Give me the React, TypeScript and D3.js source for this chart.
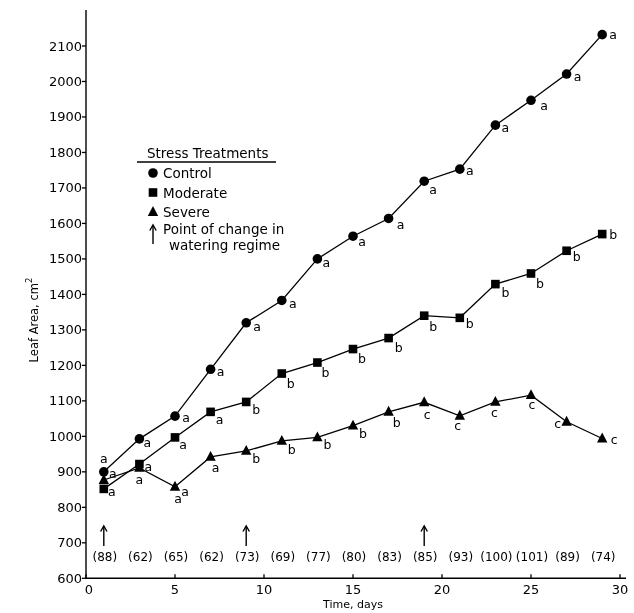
import React from "react";
import * as d3 from "d3";

const days = [1, 3, 5, 7, 9, 11, 13, 15, 17, 19, 21, 23, 25, 27, 29];
const controlValues = [900, 993, 1057, 1189, 1320, 1383, 1500, 1564, 1614, 1719, 1753, 1877, 1947, 2021, 2132];
const moderateValues = [852, 922, 997, 1069, 1097, 1177, 1208, 1246, 1277, 1340, 1334, 1429, 1459, 1523, 1570];
const severeValues = [877, 911, 858, 942, 959, 987, 997, 1030, 1069, 1096, 1058, 1097, 1116, 1041, 994];
const controlLetters = ["a", "a", "a", "a", "a", "a", "a", "a", "a", "a", "a", "a", "a", "a", "a"];
const moderateLetters = ["a", "a", "a", "a", "b", "b", "b", "b", "b", "b", "b", "b", "b", "b", "b"];
const severeLetters = ["a", "a", "a", "a", "b", "b", "b", "b", "b", "c", "c", "c", "c", "c", "c"];
const sampleCounts = ["(88)", "(62)", "(65)", "(62)", "(73)", "(69)", "(77)", "(80)", "(83)", "(85)", "(93)", "(100)", "(101)", "(89)", "(74)"];
const changeDays = [1, 9, 19];
const xTicks = [0, 5, 10, 15, 20, 25, 30];
const yTicks = [600, 700, 800, 900, 1000, 1100, 1200, 1300, 1400, 1500, 1600, 1700, 1800, 1900, 2000, 2100];
const legendItems = ["Control", "Moderate", "Severe"];

// label placement offsets (px) relative to each point
const controlOffsets: [number, number][][] = [
  [[0, -13]], [[8, 4]], [[11, 1]], [[10, 2]], [[11, 4]], [[11, 3]], [[9, 4]], [[9, 5]],
  [[12, 6]], [[9, 8]], [[10, 1]], [[10, 2]], [[13, 5]], [[11, 2]], [[11, 0]],
];
const moderateOffsets: [number, number][][] = [
  [[8, 3]], [[9, 2]], [[8, 7]], [[9, 8]], [[10, 8]], [[9, 10]], [[8, 10]], [[9, 9]],
  [[10, 9]], [[9, 11]], [[10, 6]], [[10, 8]], [[9, 10]], [[10, 6]], [[11, 0]],
];
const severeOffsets: [number, number][][] = [
  [[9, -7]], [[0, 12]], [[3, 12], [10, 5]], [[5, 11]], [[10, 8]], [[10, 9]], [[10, 7]], [[10, 8]],
  [[8, 11]], [[3, 12]], [[-2, 10]], [[-1, 11]], [[1, 9]], [[-9, 2]], [[12, 1]],
];

const FONT = "'DejaVu Sans', 'Liberation Sans', sans-serif";

export default function App() {
  const width = 634;
  const height = 613;
  const x = d3.scaleLinear().domain([0, 30]).range([86, 620]);
  const y = d3.scaleLinear().domain([600, 2100]).range([578.3, 46]);
  const line = d3
    .line<[number, number]>()
    .x((d) => x(d[0]))
    .y((d) => y(d[1]));

  const series = [
    { values: controlValues, letters: controlLetters, offsets: controlOffsets, shape: "circle" },
    { values: moderateValues, letters: moderateLetters, offsets: moderateOffsets, shape: "square" },
    { values: severeValues, letters: severeLetters, offsets: severeOffsets, shape: "triangle" },
  ];

  const marker = (shape: string, cx: number, cy: number, key: string) => {
    if (shape === "circle") return <circle key={key} cx={cx} cy={cy} r={4.8} fill="#000" />;
    if (shape === "square")
      return <rect key={key} x={cx - 4.3} y={cy - 4.3} width={8.6} height={8.6} fill="#000" />;
    const s = 5.2;
    return (
      <path
        key={key}
        d={`M${cx},${cy - s - 0.8} L${cx + s},${cy + s * 0.75} L${cx - s},${cy + s * 0.75} Z`}
        fill="#000"
      />
    );
  };

  const arrow = (ax: number, y1: number, y2: number, key: string) => (
    <g key={key}>
      <line x1={ax} x2={ax} y1={y1 + 1} y2={y2} stroke="#000" strokeWidth={1.4} />
      <path
        d={`M${ax - 3.2},${y1 + 5.5} L${ax},${y1} L${ax + 3.2},${y1 + 5.5}`}
        fill="none"
        stroke="#000"
        strokeWidth={1.4}
      />
    </g>
  );

  return (
    <svg
      width={width}
      height={height}
      style={{ display: "block", position: "absolute", left: 0, top: 0, filter: "grayscale(1)" }}
    >
      <rect width={width} height={height} fill="#fff" />
      {/* axes */}
      <line x1={x(0)} x2={x(0)} y1={10} y2={y(600)} stroke="#000" strokeWidth={1.4} />
      <line x1={x(0)} x2={626} y1={y(600)} y2={y(600)} stroke="#000" strokeWidth={1.4} />
      {yTicks.map((t) => (
        <g key={"yt" + t}>
          <line x1={x(0) - 4} x2={x(0)} y1={y(t)} y2={y(t)} stroke="#000" strokeWidth={1.3} />
          <text
            x={x(0) - 4}
            y={y(t)}
            textAnchor="end"
            dominantBaseline="central"
            fontFamily={FONT}
            fontSize={13}
            fill="#000"
          >
            {t}
          </text>
        </g>
      ))}
      {xTicks.map((t) => (
        <g key={"xt" + t}>
          <line x1={x(t)} x2={x(t)} y1={y(600)} y2={y(600) - 4} stroke="#000" strokeWidth={1.3} />
          <text
            x={x(t) + (t === 0 ? 3 : 0)}
            y={589}
            textAnchor="middle"
            dominantBaseline="central"
            fontFamily={FONT}
            fontSize={13}
            fill="#000"
          >
            {t}
          </text>
        </g>
      ))}
      <text x={353} y={604} textAnchor="middle" dominantBaseline="central" fontFamily={FONT} fontSize={11} fill="#000">
        Time, days
      </text>
      <text
        transform={`translate(34,320) rotate(-90)`}
        textAnchor="middle"
        dominantBaseline="central"
        fontFamily={FONT}
        fontSize={11.5}
        fill="#000"
      >
        Leaf Area, cm<tspan dy={-5} fontSize={8.5}>2</tspan>
      </text>

      {/* series */}
      {series.map((s, si) => (
        <g key={"s" + si}>
          <path
            d={line(days.map((d, i) => [d, s.values[i]] as [number, number])) || ""}
            fill="none"
            stroke="#000"
            strokeWidth={1.3}
          />
          {days.map((d, i) => marker(s.shape, x(d), y(s.values[i]), `m${si}-${i}`))}
          {days.map((d, i) =>
            s.offsets[i].map((o, j) => (
              <text
                key={`l${si}-${i}-${j}`}
                x={x(d) + o[0]}
                y={y(s.values[i]) + o[1]}
                textAnchor="middle"
                dominantBaseline="central"
                fontFamily={FONT}
                fontSize={12.5}
                fill="#000"
              >
                {s.letters[i]}
              </text>
            ))
          )}
        </g>
      ))}

      {/* change arrows and sample counts */}
      {changeDays.map((d) => arrow(x(d), 526, 546, "ca" + d))}
      {days.map((d, i) => (
        <text
          key={"n" + d}
          x={x(d) + 1}
          y={557}
          textAnchor="middle"
          dominantBaseline="central"
          fontFamily={FONT}
          fontSize={12}
          fill="#000"
        >
          {sampleCounts[i]}
        </text>
      ))}

      {/* legend */}
      <text x={147} y={153} dominantBaseline="central" fontFamily={FONT} fontSize={13.5} fill="#000">
        Stress Treatments
      </text>
      <line x1={137} x2={276} y1={162} y2={162} stroke="#000" strokeWidth={1.4} />
      {legendItems.map((name, i) => (
        <g key={"lg" + name}>
          {marker(["circle", "square", "triangle"][i], 153, 173 + i * 19.5, "lm" + i)}
          <text x={163} y={173 + i * 19.5} dominantBaseline="central" fontFamily={FONT} fontSize={13.5} fill="#000">
            {name}
          </text>
        </g>
      ))}
      {arrow(153, 225, 244, "legarrow")}
      <text x={163} y={229} dominantBaseline="central" fontFamily={FONT} fontSize={13.5} fill="#000">
        Point of change in
      </text>
      <text x={169} y={245} dominantBaseline="central" fontFamily={FONT} fontSize={13.5} fill="#000">
        watering regime
      </text>
    </svg>
  );
}
